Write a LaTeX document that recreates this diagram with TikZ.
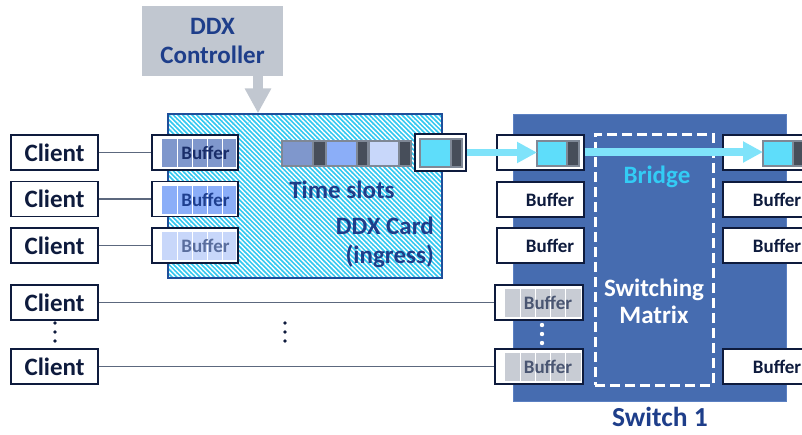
\documentclass[tikz,border=0pt]{standalone}
\usepackage{fontspec}
\setmainfont{Carlito}
\usetikzlibrary{arrows.meta,patterns.meta}

\definecolor{navy}{HTML}{0E1B3D}
\definecolor{hdblue}{HTML}{1E3E8A}
\definecolor{ctrlgray}{HTML}{C1C7D0}
\definecolor{cardcyan}{HTML}{33C8F0}
\definecolor{cardline}{HTML}{1F4E9A}
\definecolor{swblue}{HTML}{466CB0}
\definecolor{swline}{HTML}{5B80C2}
\definecolor{cellA}{HTML}{7F97CC}
\definecolor{cellB}{HTML}{8BAEF8}
\definecolor{cellC}{HTML}{C8D7FA}
\definecolor{cellG}{HTML}{C8CCD4}
\definecolor{txtA}{HTML}{1A2E6A}
\definecolor{txtB}{HTML}{1E3F8F}
\definecolor{txtC}{HTML}{5A6E9E}
\definecolor{txtG}{HTML}{4A5672}
\definecolor{slotcyan}{HTML}{5EDDFA}
\definecolor{slotdark}{HTML}{474E5A}
\definecolor{slotgray}{HTML}{7F8896}
\definecolor{flow}{HTML}{7FE3FA}
\definecolor{bridge}{HTML}{33CCF5}
\definecolor{wire}{HTML}{5C687E}

% five-cell strip of a buffer: left x, centre y, right x, colour, cell width
\newcommand\cellstrip[5]{%
  \fill[#4] (#1,#2-14) rectangle (#3,#2+14);
  \foreach \k in {1,...,4}
    \draw[white, line width=0.8pt] (#1+\k*#5,#2-14) -- (#1+\k*#5,#2+14);
}
% one time slot: left x, top y, split x, right x, bottom y, colour
\newcommand\tslot[6]{%
  \filldraw[fill=#6, draw=slotgray, line width=1.3pt] (#1,#2) rectangle (#3,#5);
  \filldraw[fill=slotdark, draw=slotgray, line width=1.3pt] (#3,#2) rectangle (#4,#5);
}

\tikzset{
  box/.style={draw=navy, line width=1.3pt, fill=white, minimum width=87pt,
    minimum height=35pt, inner sep=0pt},
  client/.style={box, font=\fontsize{25}{27}\selectfont\bfseries, text=navy},
  buftext/.style={font=\fontsize{19}{21}\selectfont\bfseries, inner sep=0pt},
  heading/.style={font=\fontsize{25}{29}\selectfont\bfseries, text=hdblue, inner sep=0pt},
  wirel/.style={draw=wire, line width=1.2pt},
  flowarrow/.style={draw=flow, line width=7.5pt, -{Triangle[length=20pt,width=20pt]}},
}

\begin{document}
\begin{tikzpicture}[x=1pt,y=-1pt]
\path[use as bounding box, clip] (0,0) rectangle (802,434);

% DDX controller and its arrow into the card
\node[fill=ctrlgray, minimum width=141pt, minimum height=70pt, inner sep=0pt,
      font=\fontsize{25}{29}\selectfont\bfseries, text=hdblue, align=center]
  (ctrl) at (212.5,41) {DDX\\Controller};

% DDX card (ingress)
\node[draw=cardline, line width=1.3pt, preaction={fill=cardcyan},
      pattern={Lines[angle=-45,distance=3.3pt,line width=1.4pt]}, pattern color=white,
      minimum width=274pt, minimum height=164pt, inner sep=0pt]
  (card) at (305,196) {};
\draw[ctrlgray, line width=10pt, -{Triangle[length=25pt,width=25pt]}]
  ([xshift=45.5pt]ctrl.south) -- ([xshift=45.5pt]ctrl.south |- card.north);

% switch
\node[fill=swblue, draw=swline, line width=1pt, minimum width=273pt,
      minimum height=287pt, inner sep=0pt] (sw) at (649.5,257.5) {};
\node[draw=white, line width=3pt, dash pattern=on 10pt off 5pt,
      minimum width=118pt, minimum height=251pt, inner sep=0pt] (mx) at (654,259.5) {};
\node[font=\fontsize{25}{27}\selectfont\bfseries, text=bridge] (br) at (657,177) {Bridge};
\node[font=\fontsize{25}{27}\selectfont\bfseries, text=white, align=center]
  (mxt) at (654,301.5) {Switching\\Matrix};
\node[heading, font=\fontsize{27.5}{29}\selectfont\bfseries] (swt) at (660,417) {Switch 1};

% clients
\node[client] (c1) at (54.5,152.5) {Client};
\node[client] (c2) at (54.5,199) {Client};
\node[client] (c3) at (54.5,245.5) {Client};
\node[client] (c4) at (54.5,302.5) {Client};
\node[client] (c5) at (54.5,366.5) {Client};

% ingress buffers on the card
\node[box, minimum width=86pt] (b1) at (195,152.5) {};
\node[box, minimum width=86pt] (b2) at (195,199) {};
\node[box, minimum width=86pt] (b3) at (195,245.5) {};
\cellstrip{162}{153}{236}{cellA}{15}
\cellstrip{162}{199.5}{236}{cellB}{15}
\cellstrip{162}{246}{236}{cellC}{15}
\node[buftext, text=txtA] (b1t) at (205.5,153) {Buffer};
\node[buftext, text=txtB] (b2t) at (205.5,199.5) {Buffer};
\node[buftext, text=txtC] (b3t) at (205.5,246) {Buffer};

% time slots and the outgoing slot
\tslot{282}{141}{313}{326}{166}{cellA}
\tslot{326}{141}{357}{368}{166}{cellB}
\tslot{369}{141}{399}{411}{166}{cellC}
\node[heading] (ts) at (342,190) {Time slots};
\node[heading, align=right, anchor=east] (cardt) at (434,242.5) {DDX Card\\(ingress)};
\node[box, minimum width=51pt, minimum height=37pt] (out) at (440.5,152.5) {};
\tslot{420}{139}{451}{462}{167}{slotcyan}

% switch ports, left column
\node[box] (s1) at (540.5,152.5) {};
\node[box] (s2) at (540.5,199.5) {};
\node[box] (s3) at (540.5,245.5) {};
\node[buftext, text=navy] at (550,200) {Buffer};
\node[buftext, text=navy] at (550,246) {Buffer};
\tslot{537}{141}{567}{579}{166}{slotcyan}
\node[box, minimum width=88pt] (g4) at (539,302.5) {};
\node[box, minimum width=88pt] (g5) at (539,366.5) {};
\cellstrip{505}{303}{581}{cellG}{15.2}
\cellstrip{505}{367}{581}{cellG}{15.2}
\node[buftext, text=txtG] at (548,303) {Buffer};
\node[buftext, text=txtG] at (548,367) {Buffer};

% switch ports, right column
\node[box] (r1) at (766.5,152.5) {};
\node[box] (r2) at (766.5,199.5) {};
\node[box] (r3) at (766.5,245.5) {};
\node[box] (r5) at (766.5,366.5) {};
\node[buftext, text=navy] at (777,200) {Buffer};
\node[buftext, text=navy] at (777,246) {Buffer};
\node[buftext, text=navy] at (777,367) {Buffer};
\tslot{763}{141}{793}{806}{166}{slotcyan}

% client links
\draw[wirel] (c1) -- (b1);
\draw[wirel] (c2) -- (b2);
\draw[wirel] (c3) -- (b3);
\draw[wirel] (c4) -- (g4);
\draw[wirel] (c5) -- (g5);

% continuation dots
\foreach \y in {323,332,341} {
  \fill[navy] (55,\y) circle (1.9pt);
  \fill[navy] (285,\y) circle (1.9pt);
}
\foreach \y in {325,334,343} \fill[white] (542,\y) circle (2.2pt);

% bridged slot flow
\coordinate (sslotW) at (537,152.5);
\coordinate (sslotE) at (s1.east |- 0,152);
\coordinate (rslotW) at (763,152);
\draw[flowarrow] (out.east) -- (sslotW);
\draw[flowarrow] (sslotE) -- (rslotW);
\end{tikzpicture}
\end{document}
